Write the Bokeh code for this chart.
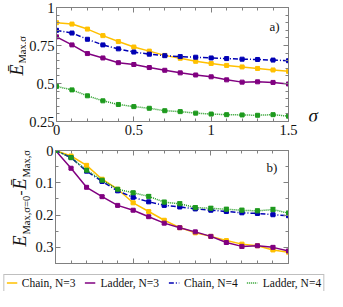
from math import pi
from bokeh.plotting import figure
from bokeh.models import (Range1d, LinearAxis, FixedTicker, Label, Legend, LegendItem,
                          Whisker, ColumnDataSource, TeeHead, Spacer)
from bokeh.layouts import column, row
from bokeh.embed import file_html
from bokeh.resources import INLINE

# ---------------- data ----------------
sigma = [0.0, 0.1, 0.2, 0.3, 0.4, 0.5, 0.6, 0.7, 0.8, 0.9, 1.0, 1.1, 1.2, 1.3, 1.4, 1.5]

# panel a) : mean maximal E
top_chain3 = [0.900, 0.891, 0.858, 0.815, 0.776, 0.740, 0.713, 0.685, 0.666, 0.646, 0.632, 0.619, 0.609, 0.599, 0.589, 0.580]
top_ladder3 = [0.807, 0.754, 0.697, 0.668, 0.637, 0.625, 0.605, 0.587, 0.570, 0.556, 0.544, 0.524, 0.509, 0.511, 0.507, 0.497]
top_chain4 = [0.850, 0.832, 0.791, 0.754, 0.728, 0.707, 0.693, 0.683, 0.677, 0.673, 0.668, 0.664, 0.660, 0.658, 0.654, 0.650]
top_ladder4 = [0.481, 0.458, 0.419, 0.386, 0.362, 0.348, 0.337, 0.321, 0.315, 0.305, 0.299, 0.295, 0.293, 0.291, 0.295, 0.285]

top_err_chain3 = [0.0, 0.002, 0.002, 0.002, 0.002, 0.002, 0.002, 0.002, 0.002, 0.002, 0.002, 0.002, 0.002, 0.002, 0.002, 0.002]
top_err_ladder3 = [0.0, 0.003, 0.003, 0.003, 0.003, 0.003, 0.003, 0.003, 0.003, 0.003, 0.003, 0.003, 0.004, 0.003, 0.003, 0.003]
top_err_chain4 = [0.0, 0.002, 0.002, 0.002, 0.002, 0.002, 0.002, 0.002, 0.002, 0.002, 0.002, 0.002, 0.002, 0.002, 0.002, 0.002]
top_err_ladder4 = [0.0, 0.003, 0.003, 0.003, 0.003, 0.003, 0.003, 0.004, 0.004, 0.004, 0.004, 0.004, 0.004, 0.004, 0.004, 0.004]

# panel b) : E(sigma=0) - mean E(sigma)
bot_chain3 = [0.0, 0.017, 0.046, 0.089, 0.120, 0.162, 0.189, 0.216, 0.239, 0.255, 0.266, 0.279, 0.290, 0.295, 0.308, 0.315]
bot_ladder3 = [0.0, 0.055, 0.114, 0.143, 0.170, 0.185, 0.205, 0.225, 0.239, 0.252, 0.266, 0.285, 0.297, 0.295, 0.300, 0.311]
bot_chain4 = [0.0, 0.022, 0.064, 0.096, 0.125, 0.145, 0.159, 0.170, 0.175, 0.181, 0.185, 0.189, 0.193, 0.195, 0.199, 0.202]
bot_ladder4 = [0.0, 0.022, 0.061, 0.092, 0.120, 0.131, 0.142, 0.160, 0.165, 0.177, 0.179, 0.182, 0.185, 0.187, 0.183, 0.194]

bot_err_chain3 = [0.0, 0.002, 0.003, 0.003, 0.003, 0.003, 0.003, 0.003, 0.003, 0.003, 0.003, 0.003, 0.003, 0.003, 0.003, 0.003]
bot_err_ladder3 = [0.0, 0.003, 0.003, 0.003, 0.003, 0.003, 0.003, 0.003, 0.003, 0.003, 0.004, 0.004, 0.005, 0.004, 0.004, 0.004]
bot_err_chain4 = [0.0, 0.002, 0.003, 0.003, 0.003, 0.003, 0.003, 0.003, 0.003, 0.003, 0.003, 0.003, 0.003, 0.003, 0.003, 0.003]
bot_err_ladder4 = [0.0, 0.004, 0.004, 0.004, 0.005, 0.005, 0.005, 0.006, 0.006, 0.006, 0.006, 0.006, 0.006, 0.006, 0.007, 0.006]

series_names = ["Chain, N=3", "Ladder, N=3", "Chain, N=4", "Ladder, N=4"]

x_ticks = [0, 0.5, 1, 1.5]
x_labels = ["0", "0.5", "1", "1.5"]
top_y_ticks = [0.25, 0.5, 0.75, 1]
top_y_labels = ["0.25", "0.5", "0.75", "1"]
bot_y_ticks = [0, 0.1, 0.2, 0.3]
bot_y_labels = ["0", "0.1", "0.2", "0.3"]

# ---------------- style ----------------
FONT = "'Liberation Serif'"
AXC = "#808080"
TXT = "#111111"
COLORS = ["#FFC000", "#800080", "#0000B4", "#1E9A1E"]
DASHES = ["solid", "solid", "5 2 1 2", "1 1"]
x_minor = [0.1, 0.2, 0.3, 0.4, 0.6, 0.7, 0.8, 0.9, 1.1, 1.2, 1.3, 1.4]
top_y_minor = [0.3, 0.35, 0.4, 0.45, 0.55, 0.6, 0.65, 0.7, 0.8, 0.85, 0.9, 0.95]
bot_y_minor = [0.05, 0.15, 0.25, 0.35]

FRAME_W = 234
RB = 10


def style_axis(ax, ticks, minor, labels=None, standoff=3):
    ax.ticker = FixedTicker(ticks=ticks, minor_ticks=minor)
    ax.major_tick_in = 5
    ax.major_tick_out = 0
    ax.minor_tick_in = 3
    ax.minor_tick_out = 0
    ax.axis_line_color = AXC
    ax.major_tick_line_color = AXC
    ax.minor_tick_line_color = AXC
    ax.axis_label = None
    ax.major_label_text_font = FONT
    if labels is not None:
        ax.major_label_overrides = {t: l for t, l in zip(ticks, labels)}
        ax.major_label_text_font_size = "14.5px"
        ax.major_label_text_color = TXT
        ax.major_label_standoff = standoff
    else:
        ax.major_label_overrides = {t: "" for t in ticks}
        ax.major_label_text_font_size = "2px"
        ax.major_label_standoff = 0


def make_fig(height, y_range, lb, tb, bb):
    p = figure(width=lb + FRAME_W + RB, height=height, x_range=Range1d(0, 1.5), y_range=y_range,
               output_backend="svg", toolbar_location=None,
               min_border_left=lb, min_border_right=RB,
               min_border_top=tb, min_border_bottom=bb)
    p.xgrid.visible = False
    p.ygrid.visible = False
    p.outline_line_color = AXC
    p.background_fill_color = "white"
    p.border_fill_color = "white"
    return p


def blank_fig(width, height, yr=(0, 1)):
    b = figure(width=width, height=height, x_range=Range1d(0, 1), y_range=Range1d(*yr),
               x_axis_type=None, y_axis_type=None, output_backend="svg",
               toolbar_location=None, min_border=0)
    b.xgrid.visible = False
    b.ygrid.visible = False
    b.outline_line_color = None
    b.background_fill_color = "white"
    b.border_fill_color = "white"
    return b


def draw(p, ys, errs):
    for y, e, c, d in zip(ys, errs, COLORS, DASHES):
        p.line(sigma, y, line_color=c, line_width=1.5, line_dash=d)
        src = ColumnDataSource(dict(x=sigma, lo=[a - b for a, b in zip(y, e)],
                                    hi=[a + b for a, b in zip(y, e)]))
        p.add_layout(Whisker(base="x", lower="lo", upper="hi", source=src,
                             line_color=c, line_width=1,
                             upper_head=TeeHead(size=5, line_color=c, line_width=1),
                             lower_head=TeeHead(size=5, line_color=c, line_width=1)))
        p.scatter(sigma, y, marker="square", size=4, fill_color=c, line_color=c)


def ylabel(b, pieces, xb, xs, y0):
    y = y0
    for txt, kind, w in pieces:
        if kind == "big":
            kw = dict(x=xb, text_font_style="italic", text_font_size="18px")
        elif kind == "sub":
            kw = dict(x=xs, text_font_size="10.5px")
        else:
            kw = dict(x=xb, text_font_size="15px")
        b.add_layout(Label(y=y, x_units="screen", y_units="screen", text=txt,
                           angle=pi / 2, text_font=FONT, text_align="left",
                           text_baseline="alphabetic", text_color=TXT, **kw))
        y += w


H1, H2, HL = 141, 133, 17
SW = 327 - 54 - FRAME_W - RB

# ---------------- panel a ----------------
p1 = make_fig(H1, Range1d(0.25, 1), 28, 7, 20)
style_axis(p1.xaxis[0], x_ticks, x_minor, x_labels)
style_axis(p1.yaxis[0], top_y_ticks, top_y_minor, top_y_labels, standoff=2)
ax_t = LinearAxis()
style_axis(ax_t, x_ticks, x_minor)
p1.add_layout(ax_t, "above")
ax_r = LinearAxis()
style_axis(ax_r, top_y_ticks, top_y_minor)
p1.add_layout(ax_r, "right")
draw(p1, [top_chain3, top_ladder3, top_chain4, top_ladder4],
     [top_err_chain3, top_err_ladder3, top_err_chain4, top_err_ladder4])
p1.add_layout(Label(x=213, y=95, x_units="screen", y_units="screen", text="a)",
                    text_font=FONT, text_font_size="13px", text_color=TXT,
                    text_baseline="alphabetic"))

L1 = blank_fig(26, H1)
ylabel(L1, [("Ē", "big", 12), ("Max,σ", "sub", 30)], 16, 21.5, 46)
S1 = blank_fig(SW, H1)
S1.add_layout(Label(x=10, y=6, x_units="screen", y_units="screen", text="σ",
                    text_font=FONT, text_font_style="italic", text_font_size="19px",
                    text_baseline="alphabetic", text_color=TXT))

# ---------------- panel b ----------------
p2 = make_fig(H2, Range1d(0.35, 0), 22, 9, 11)
style_axis(p2.xaxis[0], x_ticks, x_minor)
style_axis(p2.yaxis[0], bot_y_ticks, bot_y_minor, bot_y_labels, standoff=2)
ax_t2 = LinearAxis()
style_axis(ax_t2, x_ticks, x_minor)
p2.add_layout(ax_t2, "above")
ax_r2 = LinearAxis()
style_axis(ax_r2, bot_y_ticks, bot_y_minor)
p2.add_layout(ax_r2, "right")
draw(p2, [bot_chain3, bot_ladder3, bot_chain4, bot_ladder4],
     [bot_err_chain3, bot_err_ladder3, bot_err_chain4, bot_err_ladder4])
p2.add_layout(Label(x=211, y=96, x_units="screen", y_units="screen", text="b)",
                    text_font=FONT, text_font_size="13px", text_color=TXT,
                    text_baseline="alphabetic"))

L2 = blank_fig(32, H2)
ylabel(L2, [("E", "big", 12), ("Max,σ=0", "sub", 39), ("-", "mid", 6),
            ("Ē", "big", 12), ("Max,σ", "sub", 30)], 19, 26, 17)
S2 = Spacer(width=SW, height=H2)

# ---------------- legend (its lines lie outside its own visible range) ----------------
LG = blank_fig(327, HL, yr=(10, 11))
leg_items = []
for n, y, c, d in zip(series_names, [bot_chain3, bot_ladder3, bot_chain4, bot_ladder4], COLORS, DASHES):
    r = LG.line(sigma, y, line_color=c, line_width=1.5, line_dash=d)
    leg_items.append(LegendItem(label=n, renderers=[r]))
legend = Legend(items=leg_items, orientation="horizontal", location="center",
                label_text_font=FONT, label_text_font_size="11.5px",
                label_text_color=TXT,
                glyph_width=11, glyph_height=9, label_height=9, label_width=10,
                label_standoff=5, spacing=9, padding=2, margin=0,
                border_line_color=AXC, border_line_width=1,
                background_fill_color="white")
LG.add_layout(legend)

layout = column(row(L1, p1, S1), row(L2, p2, S2), LG)
open("out.html", "w").write(file_html(layout, INLINE))
